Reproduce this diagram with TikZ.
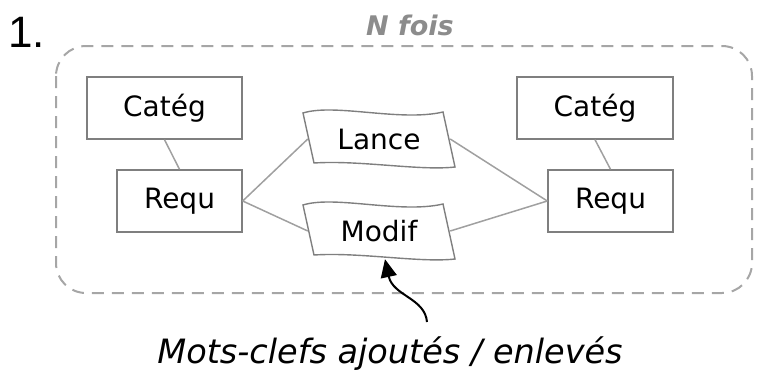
\documentclass[tikz,border=0pt]{standalone}
\usepackage{fontspec}
\setmainfont{DejaVu Sans}
\newfontfamily\numfont{Liberation Sans}
\usetikzlibrary{arrows.meta}
\definecolor{boxline}{HTML}{7F7F7F}
\definecolor{linkline}{HTML}{A0A0A0}
\definecolor{framegray}{HTML}{A6A6A6}
\definecolor{labelgray}{HTML}{8C8C8C}
\tikzset{
  x=1pt, y=-1pt,
  labelfont/.style={font=\fontsize{28pt}{33pt}\selectfont},
  entity/.style={draw=boxline, line width=1.4pt, rectangle, inner sep=0pt,
                 minimum height=62pt, labelfont},
  flagnode/.style={inner sep=0pt, minimum width=142pt, minimum height=52pt, labelfont},
  flagline/.style={draw=boxline, line width=1.4pt},
  link/.style={draw=linkline, line width=1.5pt},
  frame/.style={draw=framegray, line width=2pt, dash pattern=on 12pt off 8pt,
                rounded corners=30pt},
}
% wavy, slanted outline drawn around a flag node
\newcommand{\flagoutline}[1]{%
  \begin{scope}[shift={(#1.center)}]
    \draw[flagline] (-76,-26) .. controls (-44,-36) and (21,-17) .. (64,-27)
      -- (76,28) .. controls (41,32) and (-19,21) .. (-65,24) -- cycle;
  \end{scope}}
\begin{document}
\begin{tikzpicture}
  \useasboundingbox (0,0) rectangle (758,370);

  % repeated block
  \draw[frame] (56,46) rectangle (752,293);
  \node[anchor=base, inner sep=0pt, text=labelgray,
        font=\fontsize{27pt}{32pt}\selectfont\bfseries\itshape] (nfois) at (410,35) {N fois};
  \node[anchor=base west, inner sep=0pt,
        font=\numfont\fontsize{44pt}{50pt}\selectfont] (num) at (8,47) {1.};

  % entities
  \node[entity, minimum width=155pt] (catL) at (164.5,108) {Catég};
  \node[entity, minimum width=125pt] (reqL) at (179.5,201) {Requ};
  \node[entity, minimum width=156pt] (catR) at (595,108) {Catég};
  \node[entity, minimum width=125pt] (reqR) at (610.5,201) {Requ};

  \node[flagnode] (lance) at (379,139) {Lance};
  \node[flagnode] (modif) at (379,231) {Modif};
  \flagoutline{lance}
  \flagoutline{modif}

  % links
  \draw[link] (catL.south) -- (reqL.north);
  \draw[link] (catR.south) -- (reqR.north);
  \draw[link] (reqL.east) -- (lance.west);
  \draw[link] (reqL.east) -- (modif.west);
  \draw[link] (lance.east) -- (reqR.west);
  \draw[link] (modif.east) -- (reqR.west);

  % keyword annotation
  \node[anchor=base, inner sep=0pt,
        font=\fontsize{33.5pt}{38pt}\selectfont\itshape] (kw) at (390,363)
        {Mots-clefs ajoutés / enlevés};
  \coordinate (kwtail) at (427,322);
  \draw[line width=2pt, -{Triangle[length=18pt,width=16pt]}]
    (kwtail) .. controls (425,298) and (393,296) .. ([xshift=6pt,yshift=-2pt]modif.south);
\end{tikzpicture}
\end{document}
